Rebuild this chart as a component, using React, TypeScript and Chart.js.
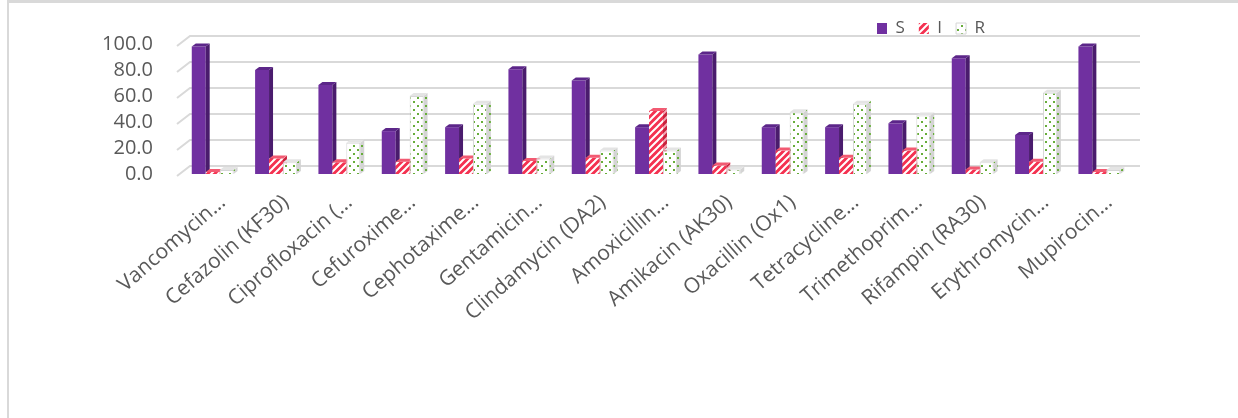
import React, { useEffect, useRef } from 'react';
import { Chart, registerables } from 'chart.js';

Chart.register(...registerables);

const categories = [
  'Vancomycin…',
  'Cefazolin (KF30)',
  'Ciprofloxacin (…',
  'Cefuroxime…',
  'Cephotaxime…',
  'Gentamicin…',
  'Clindamycin (DA2)',
  'Amoxicillin…',
  'Amikacin (AK30)',
  'Oxacillin (Ox1)',
  'Tetracycline…',
  'Trimethoprim…',
  'Rifampin (RA30)',
  'Erythromycin…',
  'Mupirocin…',
];

const seriesNames = ['S', 'I', 'R'];
const sValues = [98, 80, 68.5, 33, 36, 80.5, 72, 36, 92, 36, 36, 39, 89, 30, 98];
const iValues = [1.5, 12, 9, 9.5, 12, 10, 12.5, 48.5, 6.5, 18, 12.5, 18, 3.5, 9.5, 1.5];
const rValues = [3, 9, 24, 60, 54, 12, 18, 18, 3.5, 47.5, 54, 45, 9, 62.5, 3];
const yTicks = [0, 20, 40, 60, 80, 100];

const TEXT = '#595959';
const FONT = "'Open Sans', 'DejaVu Sans', sans-serif";
const DX = 4;
const DY = 3;

function stripePattern(ctx: CanvasRenderingContext2D, bg: string, fg: string, s = 7, lw = 2) {
  const c = document.createElement('canvas');
  c.width = s;
  c.height = s;
  const g = c.getContext('2d')!;
  g.fillStyle = bg;
  g.fillRect(0, 0, s, s);
  g.strokeStyle = fg;
  g.lineWidth = lw;
  g.beginPath();
  for (const k of [0, s, 2 * s]) {
    g.moveTo(k + 1, -1);
    g.lineTo(k - s - 1, s + 1);
  }
  g.stroke();
  return ctx.createPattern(c, 'repeat')!;
}

function dotPattern(ctx: CanvasRenderingContext2D, bg: string, fg: string) {
  const s = 8;
  const c = document.createElement('canvas');
  c.width = s;
  c.height = s;
  const g = c.getContext('2d')!;
  g.fillStyle = bg;
  g.fillRect(0, 0, s, s);
  g.fillStyle = fg;
  g.fillRect(1, 1, 2, 2);
  g.fillRect(5, 5, 2, 2);
  return ctx.createPattern(c, 'repeat')!;
}

const wallPlugin = {
  id: 'wall',
  beforeDatasetsDraw(chart: any) {
    const { ctx, chartArea } = chart;
    const ys = chart.scales.y;
    ctx.save();
    ctx.strokeStyle = '#d9d9d9';
    ctx.lineWidth = 2;
    yTicks.forEach((v) => {
      const y = ys.getPixelForValue(v);
      ctx.beginPath();
      ctx.moveTo(chartArea.left - 4, y + 2);
      ctx.lineTo(chartArea.left + 9, y - 8);
      ctx.lineTo(chartArea.right + 9, y - 8);
      ctx.stroke();
    });
    ctx.restore();
  },
};

function drawFaces(chart: any, index: number) {
  const ds = chart.data.datasets[index];
  const meta = chart.getDatasetMeta(index);
  const ctx = chart.ctx;
  meta.data.forEach((el: any) => {
    const { x, y, base, width } = el.getProps(['x', 'y', 'base', 'width'], true);
    const l = x - width / 2;
    const r = x + width / 2;
    ctx.save();
    ctx.fillStyle = ds.sideColor;
    ctx.beginPath();
    ctx.moveTo(r, y);
    ctx.lineTo(r + DX, y - DY);
    ctx.lineTo(r + DX, base - DY);
    ctx.lineTo(r, base);
    ctx.closePath();
    ctx.fill();
    ctx.fillStyle = ds.topColor;
    ctx.beginPath();
    ctx.moveTo(l, y);
    ctx.lineTo(l + DX, y - DY);
    ctx.lineTo(r + DX, y - DY);
    ctx.lineTo(r, y);
    ctx.closePath();
    ctx.fill();
    ctx.restore();
  });
}

const bar3dPlugin = {
  id: 'bar3d',
  beforeDatasetDraw() {
    return false;
  },
  afterDatasetsDraw(chart: any) {
    const n = chart.data.datasets.length;
    for (let i = 0; i < n; i++) {
      const meta = chart.getDatasetMeta(i);
      meta.controller.draw();
      drawFaces(chart, i);
    }
  },
};

const legendPosPlugin = {
  id: 'legendPos',
  afterLayout(chart: any) {
    const lg = chart.legend;
    if (!lg) return;
    const w = lg.width;
    const h = lg.height;
    lg.left = 863;
    lg.top = 6;
    lg.right = lg.left + w;
    lg.bottom = lg.top + h;
  },
};

export default function App() {
  const ref = useRef<HTMLCanvasElement | null>(null);

  useEffect(() => {
    const canvas = ref.current!;
    const ctx = canvas.getContext('2d')!;
    const redPat = stripePattern(ctx, '#f43150', '#ffffff');
    const redSide = stripePattern(ctx, '#c9203b', '#f2a7b4');
    const greenPat = dotPattern(ctx, '#ffffff', '#67ad3a');
    const greenSide = dotPattern(ctx, '#d4d4d4', '#67ad3a');

    const chart = new Chart(canvas, {
      type: 'bar',
      data: {
        labels: categories,
        datasets: [
          {
            label: seriesNames[0],
            data: sValues,
            backgroundColor: '#7030a0',
            borderWidth: 0,
            sideColor: '#4a1c6d',
            topColor: '#5c2689',
          } as any,
          {
            label: seriesNames[1],
            data: iValues,
            backgroundColor: redPat,
            borderWidth: 0,
            sideColor: redSide,
            topColor: '#f25a72',
          } as any,
          {
            label: seriesNames[2],
            data: rValues,
            backgroundColor: greenPat,
            borderColor: '#d6d6d6',
            borderWidth: 1,
            sideColor: greenSide,
            topColor: '#e4e4e4',
          } as any,
        ],
      },
      options: {
        responsive: false,
        animation: false,
        maintainAspectRatio: false,
        layout: { padding: { top: 3, right: 107, bottom: 0, left: 0 } },
        datasets: {
          bar: { categoryPercentage: 0.66, barPercentage: 1 },
        },
        plugins: {
          legend: {
            position: 'top',
            align: 'start',
            labels: {
              boxWidth: 10,
              boxHeight: 11,
              padding: 14,
              color: TEXT,
              font: { family: FONT, size: 17 },
            },
          },
          tooltip: { enabled: false },
        },
        scales: {
          x: {
            grid: { display: false },
            border: { display: false },
            ticks: {
              autoSkip: false,
              maxRotation: 41,
              minRotation: 41,
              color: TEXT,
              padding: 8,
              labelOffset: 10,
              font: { family: FONT, size: 21 },
            },
            afterFit: (s: any) => {
              s.height = 244;
            },
          },
          y: {
            min: 0,
            max: 100,
            grid: { display: false },
            border: { display: false },
            ticks: {
              autoSkip: false,
              stepSize: 20,
              color: TEXT,
              padding: 20,
              font: { family: FONT, size: 20 },
              callback: (v: any) => Number(v).toFixed(1),
            },
            afterFit: (s: any) => {
              s.width = 181;
            },
          },
        },
      },
      plugins: [wallPlugin, bar3dPlugin, legendPosPlugin],
    } as any);

    return () => chart.destroy();
  }, []);

  return (
    <div style={{ position: 'fixed', left: 0, top: 0, width: 1238, height: 418, background: '#ffffff' }}>
      <div
        style={{
          position: 'absolute',
          left: 7,
          top: 0,
          width: 1231,
          height: 418,
          borderTop: '3px solid #d9d9d9',
          borderLeft: '2px solid #d9d9d9',
          boxSizing: 'border-box',
        }}
      />
      <canvas ref={ref} width={1238} height={418} style={{ position: 'absolute', left: 0, top: 0 }} />
    </div>
  );
}
